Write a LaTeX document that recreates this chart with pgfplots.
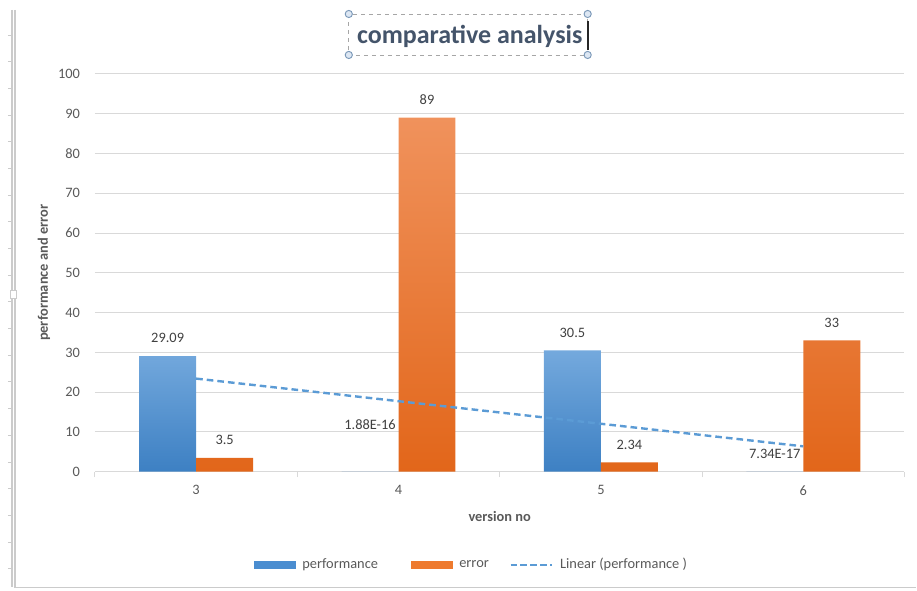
\documentclass[border=0pt]{standalone}
\usepackage{pgfplots}
\pgfplotsset{compat=1.18}
\usepackage{pgfplotstable}
\usepackage{fontspec}
\setmainfont{Carlito}

\definecolor{blueTop}{HTML}{74A9DD}
\definecolor{blueBot}{HTML}{3D80C3}
\definecolor{blueKey}{HTML}{4A8DD0}
\definecolor{orangeTop}{HTML}{F0925C}
\definecolor{orangeBot}{HTML}{E2661A}
\definecolor{orangeKey}{HTML}{EE7A2E}
\definecolor{trendblue}{HTML}{5B9BD5}
\definecolor{gridgray}{HTML}{D9D9D9}
\definecolor{ticktext}{HTML}{595959}
\definecolor{labeltext}{HTML}{404040}
\definecolor{titletext}{HTML}{44546A}
\definecolor{framegray}{HTML}{CBCBCB}
\definecolor{handlefill}{HTML}{DDE7F3}
\definecolor{handledraw}{HTML}{7A98B8}

% version no (category index), value, printed label, extra label lift (pt)
\pgfplotstableread{
x y lbl dy
0 29.09 29.09 0
1 1.88e-16 1.88E-16 22
2 30.5 30.5 0
3 7.34e-17 7.34E-17 0
}\perftable

\pgfplotstableread{
x y lbl dy
0 3.5 3.5 0
1 89 89 0
2 2.34 2.34 0
3 33 33 0
}\errtable

\def\labdy{0}

\pgfplotsset{
  barlabels/.style={
    point meta=explicit symbolic,
    nodes near coords,
    visualization depends on={\thisrow{dy} \as \labdy},
    nodes near coords style={font=\fontsize{10.8}{13}\selectfont, text=labeltext,
      anchor=south, inner sep=0pt, xshift=#1, yshift=9.5pt+\labdy pt},
  },
  % flat legend key, drawn on the basic layer so the bar shading is not inherited
  flatkey/.style={
    legend image code/.code={%
      \pgfsetfillcolor{#1}%
      \pgfpathrectangle{\pgfpoint{0pt}{-3pt}}{\pgfpoint{31.5pt}{6pt}}%
      \pgfusepath{fill}%
    },
  },
}

\begin{document}
\begin{tikzpicture}[x=0.75pt,y=0.75pt]
% page area
\path (0,0) rectangle (917,591);

% chart frame
\draw[framegray, line width=0.8pt] (12,581) -- (12,4);
\draw[framegray, line width=0.8pt] (15,581) -- (15,3) -- (917,3);
\foreach \k in {0,...,20} {
  \draw[framegray, line width=0.6pt] (8,{556-26.7*\k}) -- (12,{556-26.7*\k});
}
\draw[framegray, fill=white, line width=0.6pt] (10.5,292) rectangle (16.5,300);

% title
\draw[gray!70, dashed, line width=0.6pt] (349,577) rectangle (588,536);
\foreach \p in {(349,577),(588,577),(349,536),(588,536)} {
  \draw[handledraw, fill=handlefill, line width=0.7pt] \p circle (3.6);
}
\draw[black!85, line width=1.4pt] (588,570) -- (588,541);
\node[text=titletext, font=\fontsize{19.5}{22}\selectfont\bfseries] at (470,555) {comparative analysis};

\begin{axis}[
  at={(71.25pt,89.25pt)}, anchor=south west,
  width=607.5pt, height=298.5pt, scale only axis,
  xmin=-0.5, xmax=3.5, ymin=0, ymax=100,
  xtick={0,1,2,3}, xticklabels={3,4,5,6},
  minor xtick={-0.5,0.5,1.5,2.5,3.5},
  ytick={0,10,...,100},
  major tick length=0pt, minor tick length=4pt,
  tick align=outside,
  minor tick style={gridgray, line width=0.75pt},
  axis lines*=left,
  x axis line style={gridgray, line width=0.75pt, -},
  y axis line style={draw=none},
  ymajorgrids, grid style={gridgray, line width=0.75pt},
  /pgf/number format/assume math mode=true,
  ticklabel style={font=\fontsize{10.8}{13}\selectfont, text=ticktext},
  yticklabel style={anchor=east, inner sep=0pt, xshift=-11pt},
  xticklabel style={anchor=north, inner sep=0pt, yshift=-10pt},
  xlabel={\bfseries version no},
  ylabel={\bfseries performance and error},
  label style={font=\fontsize{10.8}{13}\selectfont, text=ticktext},
  xlabel style={at={(axis description cs:0.5,-0.113)}, anchor=center},
  ylabel style={at={(axis description cs:-0.063,0.5)}, anchor=center, rotate=0},
  legend style={at={(axis description cs:0.4654,-0.2337)}, anchor=center,
    draw=none, fill=none, font=\fontsize{10.8}{13}\selectfont, text=ticktext,
    legend columns=3,
    /tikz/every odd column/.append style={column sep=3pt},
    /tikz/column 2/.style={column sep=22.5pt},
    /tikz/column 4/.style={column sep=13.5pt}},
]
\addplot[ybar, bar width=42.75pt, bar shift=-21.375pt, draw=none,
  top color=blueTop, bottom color=blueBot, barlabels=-21.375pt, flatkey=blueKey]
  table[x=x, y=y, meta=lbl] {\perftable};
\addlegendentry{performance}

\addplot[ybar, bar width=42.75pt, bar shift=21.375pt, draw=none,
  top color=orangeTop, bottom color=orangeBot, barlabels=21.375pt, flatkey=orangeKey]
  table[x=x, y=y, meta=lbl] {\errtable};
\addlegendentry{error}

% least-squares line of performance, end values
\addplot[trendblue, line width=1.8pt, dash pattern=on 5pt off 3pt, no marks,
  legend image code/.code={\draw[trendblue, line width=1.5pt, dash pattern=on 5pt off 2.5pt] (0pt,0pt) -- (31.5pt,0pt);}]
  coordinates {(0,23.41) (3,6.38)};
\addlegendentry{Linear (performance )}
\end{axis}
\end{tikzpicture}
\end{document}
